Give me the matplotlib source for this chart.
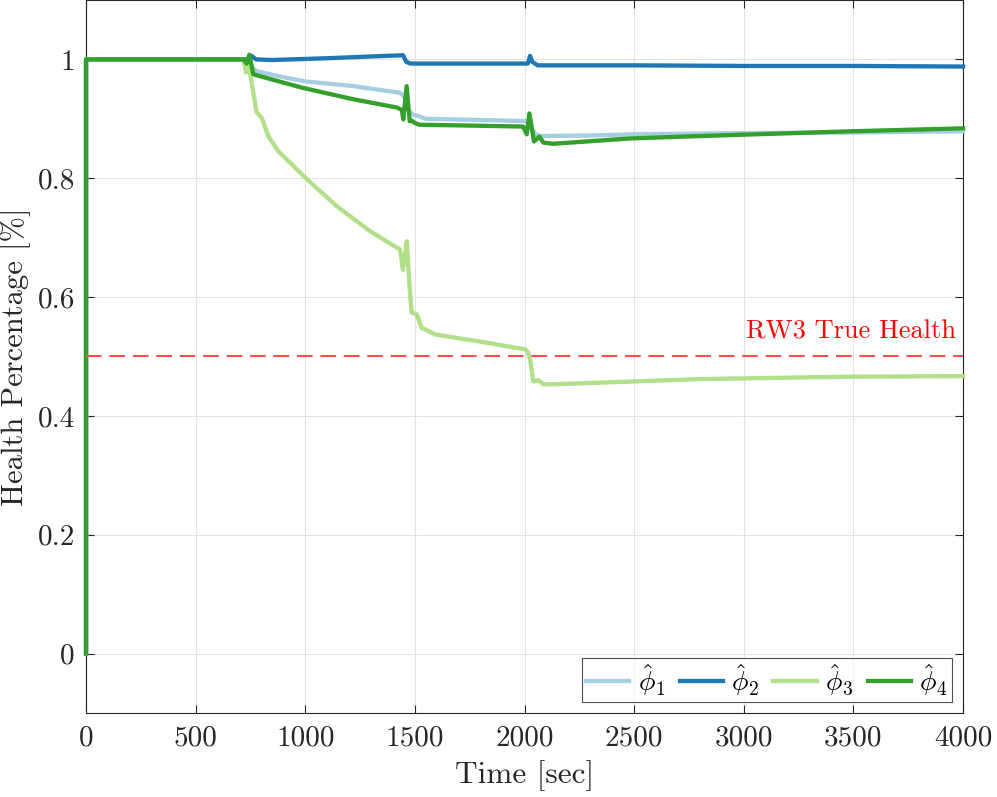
import matplotlib
matplotlib.use("Agg")
import matplotlib.pyplot as plt

plt.rcParams['font.family'] = 'serif'
plt.rcParams['font.serif'] = ['cmr10']
plt.rcParams['mathtext.fontset'] = 'cm'
plt.rcParams['axes.unicode_minus'] = False

# health estimates (time in sec, health fraction)
t1 = [0, 0, 725, 740, 760, 780, 900, 1000, 1220, 1430, 1450, 1470, 1490, 1505,
      1550, 1800, 2010, 2030, 2050, 2070, 2300, 2500, 3000, 3500, 4000]
phi1 = [0, 1, 1, 0.992, 0.985, 0.980, 0.970, 0.963, 0.955, 0.944, 0.938, 0.915,
        0.907, 0.906, 0.900, 0.898, 0.896, 0.885, 0.874, 0.871, 0.872, 0.874,
        0.876, 0.877, 0.879]

t2 = [0, 0, 730, 745, 755, 775, 850, 1100, 1300, 1446, 1460, 1480, 1700, 2015,
      2025, 2035, 2060, 2500, 3000, 3500, 4000]
phi2 = [0, 1, 1, 1.001, 1.006, 1.0, 0.999, 1.002, 1.005, 1.007, 0.996, 0.993,
        0.993, 0.993, 1.006, 0.996, 0.990, 0.990, 0.989, 0.989, 0.988]

t3 = [0, 0, 718, 730, 740, 760, 778, 801, 831, 876, 1000, 1143, 1295, 1432,
      1445, 1463, 1475, 1485, 1508, 1531, 1562, 1592, 1800, 2002, 2015, 2025,
      2040, 2063, 2086, 2192, 2496, 2800, 3485, 4000]
phi3 = [0, 1, 1, 0.978, 0.995, 0.95, 0.911, 0.902, 0.871, 0.846, 0.801, 0.753,
        0.711, 0.680, 0.646, 0.694, 0.62, 0.574, 0.571, 0.548, 0.543, 0.537,
        0.525, 0.512, 0.508, 0.495, 0.458, 0.460, 0.453, 0.454, 0.458, 0.462,
        0.466, 0.467]

t4 = [0, 0, 720, 732, 745, 752, 763, 850, 990, 1218, 1418, 1440, 1447, 1462,
      1476, 1485, 1500, 1520, 1700, 1993, 2010, 2022, 2043, 2068, 2086, 2130,
      2481, 2800, 3485, 4000]
phi4 = [0, 1, 1, 0.993, 1.008, 0.995, 0.975, 0.966, 0.952, 0.933, 0.919, 0.915,
        0.899, 0.955, 0.896, 0.897, 0.893, 0.890, 0.889, 0.887, 0.874, 0.909,
        0.862, 0.870, 0.860, 0.858, 0.867, 0.871, 0.879, 0.884]

true_health = 0.5
xticks = [0, 500, 1000, 1500, 2000, 2500, 3000, 3500, 4000]
yticks = [0, 0.2, 0.4, 0.6, 0.8, 1]
ytick_labels = ['0', '0.2', '0.4', '0.6', '0.8', '1']

fig = plt.figure(figsize=(9.97, 7.97), dpi=100)
ax = fig.add_axes([0.0863, 0.1054, 0.8797, 0.8946])

series = [(t1, phi1, '#a6cee3', r'$\hat{\phi}_1$'),
          (t2, phi2, '#1f78b4', r'$\hat{\phi}_2$'),
          (t3, phi3, '#b2df8a', r'$\hat{\phi}_3$'),
          (t4, phi4, '#33a02c', r'$\hat{\phi}_4$')]
for t, y, c, lab in series:
    ax.plot(t, y, color=c, lw=3.1, label=lab, clip_on=False, zorder=3)

ax.axhline(true_health, color='#ff4d4d', lw=1.5, dashes=(7.5, 3.75), zorder=3.5)
ax.text(3968, 0.522, 'RW3 True Health', color='red', fontsize=19,
        ha='right', va='bottom')

ax.set_xlim(0, 4000)
ax.set_ylim(-0.1, 1.1)
ax.set_xticks(xticks)
ax.set_xticklabels([str(x) for x in xticks])
ax.set_yticks(yticks)
ax.set_yticklabels(ytick_labels)
ax.grid(True, color='#e3e3e3', lw=0.8)
ax.set_axisbelow(True)

ax.tick_params(direction='in', top=True, right=True, length=5.5, width=0.8,
               color='#262626', labelsize=21, labelcolor='#262626')
ax.tick_params(axis='x', pad=9)
ax.tick_params(axis='y', pad=8)
for s in ax.spines.values():
    s.set_color('#262626')
    s.set_linewidth(0.8)

ax.set_xlabel('Time [sec]', fontsize=22.5, color='#262626', labelpad=6)
ax.set_ylabel('Health Percentage [%]', fontsize=22, color='#262626', labelpad=5)

leg = ax.legend(loc='lower right', ncol=4, fontsize=20, frameon=True,
                fancybox=False, edgecolor='#262626', handlelength=1.55,
                columnspacing=0.5, handletextpad=0.3, borderpad=0.15,
                borderaxespad=0.4)
leg.get_frame().set_linewidth(0.8)
leg.set_zorder(5)

fig.savefig('out.png', dpi=100)
